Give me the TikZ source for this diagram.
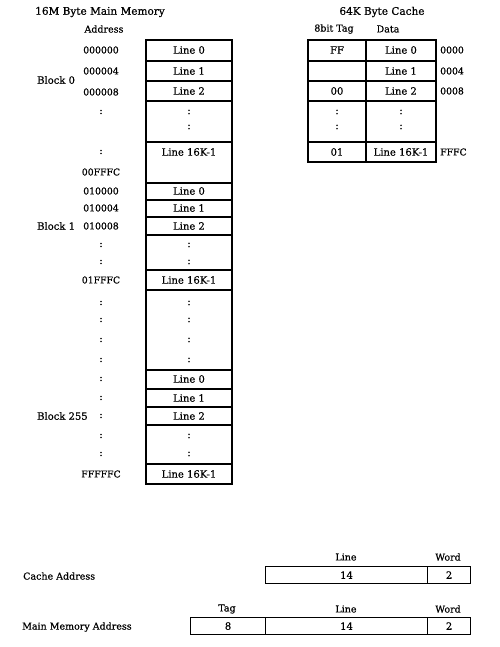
\documentclass[tikz,border=0pt]{standalone}
\usepackage{fontspec}
\setmainfont{DejaVu Serif}[FakeBold=0.6]
\begin{document}
\begin{tikzpicture}[x=1pt,y=-1pt,
  txt/.style={inner sep=0pt,font=\fontsize{10}{12}\selectfont},
  adr/.style={inner sep=0pt,font=\fontsize{9.3}{11}\selectfont},
  ttl/.style={inner sep=0pt,font=\fontsize{10.5}{12}\selectfont},
  small/.style={inner sep=0pt,font=\fontsize{9.5}{11}\selectfont},
  box/.style={draw,line width=1.1pt}]
\useasboundingbox (0,0) rectangle (499,647);
% titles
\node[ttl] (t1) at (100,12) {16M Byte Main Memory};
\node[small] (addr) at (104,29) {Address};
\node[ttl] (t2) at (382,12) {64K Byte Cache};
\node[small] (tagh) at (334,29) {8bit Tag};
\node[small] (datah) at (388,29) {Data};
% main memory column
\draw[box] (146,40) rectangle (232,484);
\foreach \y in {61,81,101,142,183,200,217,235,270,290,370,389,407,425,464}
  \draw[box] (146,\y) -- (232,\y);
% main memory texts
\foreach \y/\t [count=\i] in {50/Line 0,71/Line 1,91/Line 2,112/:,127/:,152/Line 16K-1,
  191/Line 0,208/Line 1,226/Line 2,245/:,262/:,280/Line 16K-1,
  303/:,320/:,340/:,360/:,379/Line 0,398/Line 1,416/Line 2,436/:,454/:,474/Line 16K-1}
  \node[txt] (m\i) at (189,\y) {\t};
% address texts
\foreach \y/\t [count=\i] in {50/000000,71/000004,92/000008,112/:,152/:,172/00FFFC,
  191/010000,208/010004,226/010008,245/:,262/:,280/01FFFC,
  303/:,320/:,340/:,360/:,379/:,398/:,416/:,436/:,454/:,474/FFFFFC}
  \node[adr] (a\i) at (101,\y) {\t};
% block labels
\node[txt,anchor=west] (b0) at (37,80) {Block 0};
\node[txt,anchor=west] (b1) at (37,226) {Block 1};
\node[txt,anchor=west] (b255) at (37,416) {Block 255};
% cache table
\draw[box] (308,40) rectangle (436,162);
\draw[box] (366,40) -- (366,162);
\foreach \y in {61,81,101,142}
  \draw[box] (308,\y) -- (436,\y);
\foreach \y/\t [count=\i] in {50/FF,91/00,112/:,127/:,152/01}
  \node[txt] (ct\i) at (337,\y) {\t};
\foreach \y/\t [count=\i] in {50/Line 0,71/Line 1,91/Line 2,112/:,127/:,152/Line 16K-1}
  \node[txt] (cd\i) at (401,\y) {\t};
\foreach \y/\t [count=\i] in {50/0000,71/0004,91/0008,152/FFFC}
  \node[adr,anchor=west] (ca\i) at (440,\y) {\t};
% cache address
\node[small] (lh1) at (346,557) {Line};
\node[small] (wh1) at (448,557) {Word};
\node[box,minimum width=162pt,minimum height=17pt,inner sep=0pt,anchor=north west] (cl) at (265,566) {};
\node[box,minimum width=43pt,minimum height=17pt,inner sep=0pt,anchor=north west] (cw) at (427,566) {};
\node[txt] at (cl.center) {14};
\node[txt] at (cw.center) {2};
\node[small,anchor=west] (calab) at (23,576) {Cache Address};
% main memory address
\node[small] (th2) at (227,609) {Tag};
\node[small] (lh2) at (346,609) {Line};
\node[small] (wh2) at (448,609) {Word};
\node[box,minimum width=75pt,minimum height=17pt,inner sep=0pt,anchor=north west] (mt) at (190,617) {};
\node[box,minimum width=162pt,minimum height=17pt,inner sep=0pt,anchor=north west] (ml) at (265,617) {};
\node[box,minimum width=43pt,minimum height=17pt,inner sep=0pt,anchor=north west] (mw) at (427,617) {};
\node[txt] at (mt.center) {8};
\node[txt] at (ml.center) {14};
\node[txt] at (mw.center) {2};
\node[small,anchor=west] (mmlab) at (22,627) {Main Memory Address};
\end{tikzpicture}
\end{document}
